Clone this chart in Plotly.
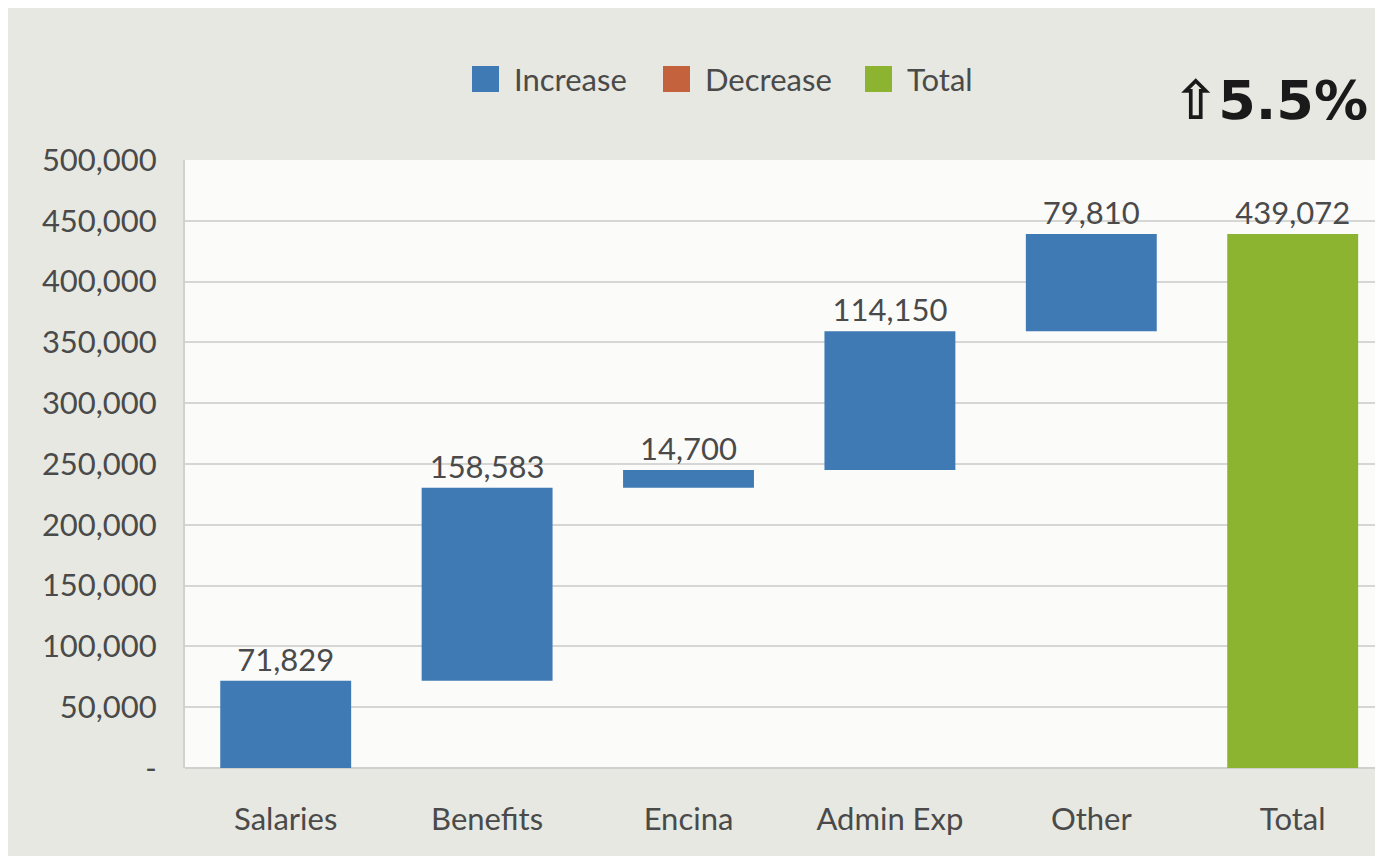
import plotly.graph_objects as go

categories = ["Salaries", "Benefits", "Encina", "Admin Exp", "Other", "Total"]
increments = [71829, 158583, 14700, 114150, 79810]
measures = ["relative"] * 5 + ["total"]
total_value = sum(increments)
bar_values = increments + [0]
bar_text = [f"{v:,}" for v in increments] + [f"{total_value:,}"]

y_ticks = [0, 50000, 100000, 150000, 200000, 250000, 300000, 350000, 400000, 450000, 500000]
y_ticktext = ["-"] + [f"{v:,}" for v in y_ticks[1:]]

legend_names = ["Increase", "Decrease", "Total"]
legend_colors = ["#3f7ab5", "#c5623e", "#8cb431"]
headline = "⇧5.5%"

FONT = "Lato"
TXT = "#4a4a4a"
FS = 31

# page body has an 8px margin; compensate so the screen positions match
OFF = 8
W, H = 1383, 856
L, T = 185 - OFF, 160 - OFF
B = H - (768 - OFF)
R = 0
pw, ph = W - L - R, H - T - B


def sx(x):
    return (x - OFF - L) / pw


def sy(y):
    return (H - B - (y - OFF)) / ph


fig = go.Figure()
fig.add_trace(go.Waterfall(
    x=categories, y=bar_values, measure=measures,
    text=bar_text, textposition="outside",
    textfont=dict(family=FONT, size=FS, color=TXT),
    increasing=dict(marker=dict(color=legend_colors[0])),
    decreasing=dict(marker=dict(color=legend_colors[1])),
    totals=dict(marker=dict(color=legend_colors[2])),
    connector=dict(visible=False),
    width=0.65, showlegend=False, cliponaxis=False,
))

shapes = []
annotations = []
legend_x = [472, 663, 865]
for name, col, x0 in zip(legend_names, legend_colors, legend_x):
    shapes.append(dict(type="rect", xref="paper", yref="paper",
                       x0=sx(x0), x1=sx(x0 + 27),
                       y0=sy(92), y1=sy(66),
                       fillcolor=col, line=dict(width=0)))
    annotations.append(dict(xref="paper", yref="paper", x=sx(x0 + 40),
                            y=sy(79), xanchor="left", yanchor="middle",
                            text=name, showarrow=False,
                            font=dict(family=FONT, size=FS, color=TXT)))
annotations.append(dict(xref="paper", yref="paper", x=sx(1370),
                        y=sy(101), xanchor="right", yanchor="middle",
                        text="<b>" + headline + "</b>", showarrow=False,
                        font=dict(family="DejaVu Sans", size=54, color="#1a1a1a")))

# plot spans screen x 185 -> 1391 (beyond the window), 201.4 px per category
x_hi = -0.5 + (W - L) / 201.4

fig.update_layout(
    width=W, height=H,
    margin=dict(l=L, r=R, t=T, b=B),
    paper_bgcolor="#e6e8e1",
    plot_bgcolor="#fbfbfa",
    shapes=shapes, annotations=annotations,
    showlegend=False,
    font=dict(family=FONT, color=TXT),
)
fig.update_xaxes(
    range=[-0.5, x_hi], showgrid=False,
    tickfont=dict(family=FONT, size=FS, color=TXT),
    ticks="outside", ticklen=24, tickcolor="rgba(0,0,0,0)",
    showline=False, zeroline=False,
)
fig.update_yaxes(
    range=[0, 500000], tickvals=y_ticks, ticktext=y_ticktext,
    tickfont=dict(family=FONT, size=FS, color=TXT),
    ticks="outside", ticklen=20, tickcolor="rgba(0,0,0,0)",
    showgrid=True, gridcolor="#d6d6d4", gridwidth=2,
    showline=True, linecolor="#d0d0ce", linewidth=2,
    zeroline=True, zerolinecolor="#d0d0ce", zerolinewidth=2,
)

fig.write_html("out.html")
